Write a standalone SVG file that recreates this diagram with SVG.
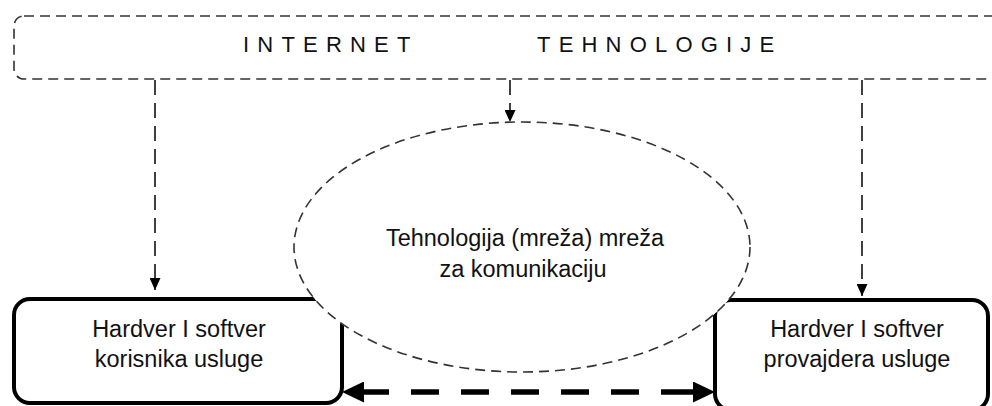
<svg xmlns="http://www.w3.org/2000/svg" width="992" height="406" viewBox="0 0 992 406">
<defs>
<style>
.lbl{font-family:"Liberation Sans",Arial,sans-serif;font-size:23.5px;fill:#111;text-anchor:middle}
.hdr{font-family:"Liberation Sans",Arial,sans-serif;font-size:22px;fill:#111;letter-spacing:8.2px}
.box{fill:#fff;stroke:#000;stroke-width:4}
.dash{fill:none;stroke:#333;stroke-width:1.6;stroke-dasharray:10 6}
.varrow{fill:none;stroke:#111;stroke-width:1.6;stroke-dasharray:15 8}
.big{fill:none;stroke:#000;stroke-width:5.5}
</style>
<marker id="ah" markerUnits="userSpaceOnUse" markerWidth="12" markerHeight="11" refX="12" refY="5.5" orient="auto">
<path d="M0,0 L12,5.5 L0,11 z" fill="#000"/>
</marker>
<marker id="bah" markerUnits="userSpaceOnUse" markerWidth="22" markerHeight="21" refX="0" refY="10.5" orient="auto-start-reverse">
<path d="M0,0 L22,10.5 L0,21 z" fill="#000"/>
</marker>
</defs>
<rect width="992" height="406" fill="#fff"/>
<g id="internet">
<rect class="dash" x="14" y="16" width="1000" height="63" rx="10"/>
<text class="hdr" x="243" y="52">INTERNET</text>
<text class="hdr" x="537" y="52">TEHNOLOGIJE</text>
</g>
<g id="korisnik">
<rect class="box" x="14" y="299" width="328" height="104" rx="16"/>
<text class="lbl" x="179" y="337">Hardver I softver</text>
<text class="lbl" x="179" y="367">korisnika usluge</text>
</g>
<g id="provajder">
<rect class="box" x="715" y="300" width="273" height="110" rx="16"/>
<text class="lbl" x="857" y="337">Hardver I softver</text>
<text class="lbl" x="857" y="367">provajdera usluge</text>
</g>
<g id="mreza">
<ellipse cx="522" cy="247" rx="228" ry="125" fill="#fff" stroke="#333" stroke-width="1.6" stroke-dasharray="10 6"/>
<text class="lbl" x="525" y="246">Tehnologija (mreža) mreža</text>
<text class="lbl" x="523" y="277">za komunikaciju</text>
</g>
<g id="connectors">
<line class="varrow" x1="155" y1="80" x2="155" y2="290" marker-end="url(#ah)"/>
<line class="varrow" x1="510" y1="80" x2="510" y2="122" marker-end="url(#ah)"/>
<line class="varrow" x1="862" y1="80" x2="862" y2="296" marker-end="url(#ah)"/>
<line class="big" x1="364" y1="392" x2="693" y2="392" stroke-dasharray="25 22 28 22 28 22 28 22 28 22 28 22 40" marker-start="url(#bah)" marker-end="url(#bah)"/>
</g>
</svg>
